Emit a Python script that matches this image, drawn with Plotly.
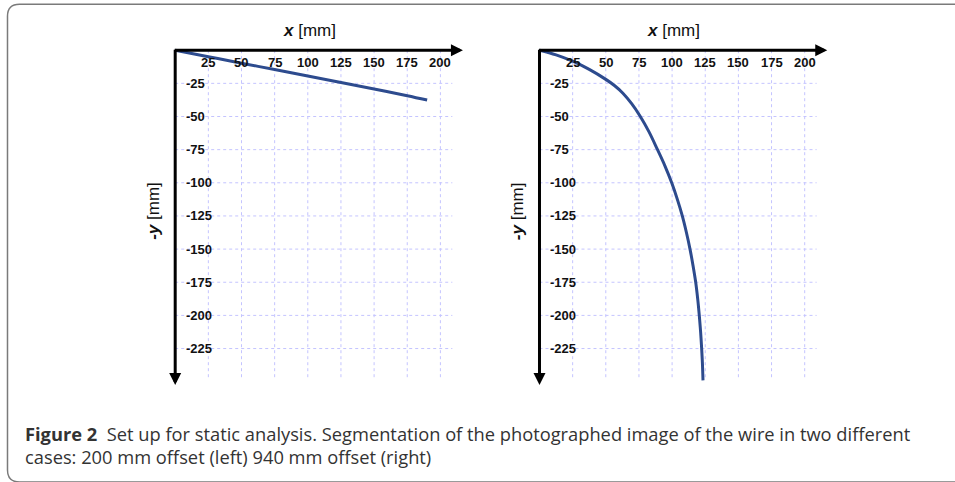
import plotly.graph_objects as go

# ---------------- data ----------------
x_ticks = [25, 50, 75, 100, 125, 150, 175, 200]
y_ticks = [-25, -50, -75, -100, -125, -150, -175, -200, -225]

# left: 200 mm offset
x_left = [0, 25, 50, 75, 100, 125, 150, 175, 190]
y_left = [0, -4.9, -9.8, -14.6, -19.5, -24.3, -29.2, -34.3, -37.6]

# right: 940 mm offset
x_right = [0, 12.5, 25, 37.5, 50, 56.5, 62.9, 69.5, 75.8, 82.5, 88.9, 94.5, 99.7, 103.9,
           107.7, 110.8, 113.5, 115.8, 117.8, 119.3, 120.5, 121.5, 122.3, 122.9, 123.3]
y_right = [0, -3.5, -8.3, -14.5, -22.0, -26.6, -32.4, -40.3, -49.6, -61.4, -74.8, -87.0, -100,
           -112.3, -125, -137.5, -150, -162.5, -175, -187.5, -200, -212.5, -225, -237, -249]

x_title = "<b><i>x</i></b> [mm]"
y_title = "<b><i>-y</i></b> [mm]"
caption_1 = "<b>Figure 2</b>  Set up for static analysis. Segmentation of the photographed image of the wire in two different"
caption_2 = "cases: 200 mm offset (left) 940 mm offset (right)"

# ---------------- layout constants ----------------
W, H = 955, 482
S = 1.326              # px per mm
ORIGIN_Y = 50.2        # px of y = 0
ORIGINS_X = [175.2, 539.5]
XR = [-4, 222]
YR = [-258, 4]
GRID_RIGHT = 209
GRID_BOTTOM = -247
ARROW_X = 217
ARROW_Y = -252.5
LINE_COLOR = "#2d4b8e"
GRID_COLOR = "#c4c4ff"
TICK_FONT = dict(family="Liberation Sans, Arial", size=13, color="#111111", weight="bold")
TITLE_FONT = dict(family="Liberation Sans, Arial", size=17, color="#111111")

fig = go.Figure()

curves = [(x_left, y_left), (x_right, y_right)]
annotations = []
for i, ox in enumerate(ORIGINS_X):
    n = "" if i == 0 else str(i + 1)
    xa, ya = "x" + n, "y" + n
    dx0 = (ox + XR[0] * S) / W
    dx1 = (ox + XR[1] * S) / W
    dy0 = 1 - (ORIGIN_Y - YR[0] * S) / H
    dy1 = 1 - (ORIGIN_Y - YR[1] * S) / H
    axis_common = dict(visible=False, showgrid=False, zeroline=False, fixedrange=True)
    fig.layout["xaxis" + n] = dict(domain=[dx0, dx1], range=XR, anchor=ya, **axis_common)
    fig.layout["yaxis" + n] = dict(domain=[dy0, dy1], range=YR, anchor=xa, **axis_common)

    # grid lines
    gx, gy = [], []
    for v in x_ticks:
        gx += [v, v, None]
        gy += [0, GRID_BOTTOM, None]
    for v in y_ticks:
        gx += [0, GRID_RIGHT, None]
        gy += [v, v, None]
    fig.add_trace(go.Scatter(x=gx, y=gy, mode="lines", xaxis=xa, yaxis=ya,
                             line=dict(color=GRID_COLOR, width=1, dash="dot"),
                             hoverinfo="skip", showlegend=False))
    # curve
    cx, cy = curves[i]
    fig.add_trace(go.Scatter(x=cx, y=cy, mode="lines", xaxis=xa, yaxis=ya,
                             line=dict(color=LINE_COLOR, width=3, shape="spline", smoothing=1.0),
                             showlegend=False))
    # axes arrows
    annotations.append(dict(x=ARROW_X, y=0, ax=-1.5, ay=0, xref=xa, yref=ya, axref=xa, ayref=ya,
                            text="", showarrow=True, arrowhead=2, arrowsize=0.8,
                            arrowwidth=3, arrowcolor="black", standoff=0))
    annotations.append(dict(x=0, y=ARROW_Y, ax=0, ay=1.5, xref=xa, yref=ya, axref=xa, ayref=ya,
                            text="", showarrow=True, arrowhead=2, arrowsize=0.8,
                            arrowwidth=3, arrowcolor="black", standoff=0))
    # tick labels
    for v in x_ticks:
        annotations.append(dict(x=v, y=0, xref=xa, yref=ya, text=str(v), showarrow=False,
                                xanchor="center", yanchor="middle", yshift=-12, font=TICK_FONT))
    for v in y_ticks:
        annotations.append(dict(x=0, y=v, xref=xa, yref=ya, text=str(v), showarrow=False,
                                xanchor="left", yanchor="middle", xshift=9, font=TICK_FONT))
    # axis titles
    annotations.append(dict(x=101, y=0, xref=xa, yref=ya, text=x_title, showarrow=False,
                            xanchor="center", yanchor="middle", yshift=20, font=TITLE_FONT))
    annotations.append(dict(x=0, y=-121, xref=xa, yref=ya, text=y_title, showarrow=False,
                            textangle=-90, xanchor="center", yanchor="middle", xshift=-22,
                            font=TITLE_FONT))

# caption
CAP_FONT = dict(family="Open Sans, Noto Sans", size=18.3, color="#333333")
annotations.append(dict(x=23 / W, y=1 - 433 / H, xref="paper", yref="paper", text=caption_1,
                        showarrow=False, xanchor="left", yanchor="middle", font=CAP_FONT))
annotations.append(dict(x=23 / W, y=1 - 456 / H, xref="paper", yref="paper", text=caption_2,
                        showarrow=False, xanchor="left", yanchor="middle", font=CAP_FONT))

# frame (rounded left corners)
def P(px, py):
    return f"{px / W:.5f},{1 - py / H:.5f}"

r = 12
left, top, bottom = 7.5, 4.3, 482
frame_path = (f"M {P(W + 5, top)} L {P(left + r, top)} Q {P(left, top)} {P(left, top + r)} "
              f"L {P(left, bottom - r)} Q {P(left, bottom)} {P(left + r, bottom)} L {P(W + 5, bottom)}")

fig.update_layout(
    width=W, height=H, autosize=False,
    margin=dict(l=0, r=0, t=0, b=0),
    paper_bgcolor="white", plot_bgcolor="rgba(0,0,0,0)",
    annotations=annotations,
    shapes=[dict(type="path", path=frame_path, xref="paper", yref="paper",
                 line=dict(color="#7a7a7a", width=1.5))],
)

fig.write_html("out.html", config={"displayModeBar": False},
               post_script="document.body.style.margin='0';document.body.style.overflow='hidden';")
